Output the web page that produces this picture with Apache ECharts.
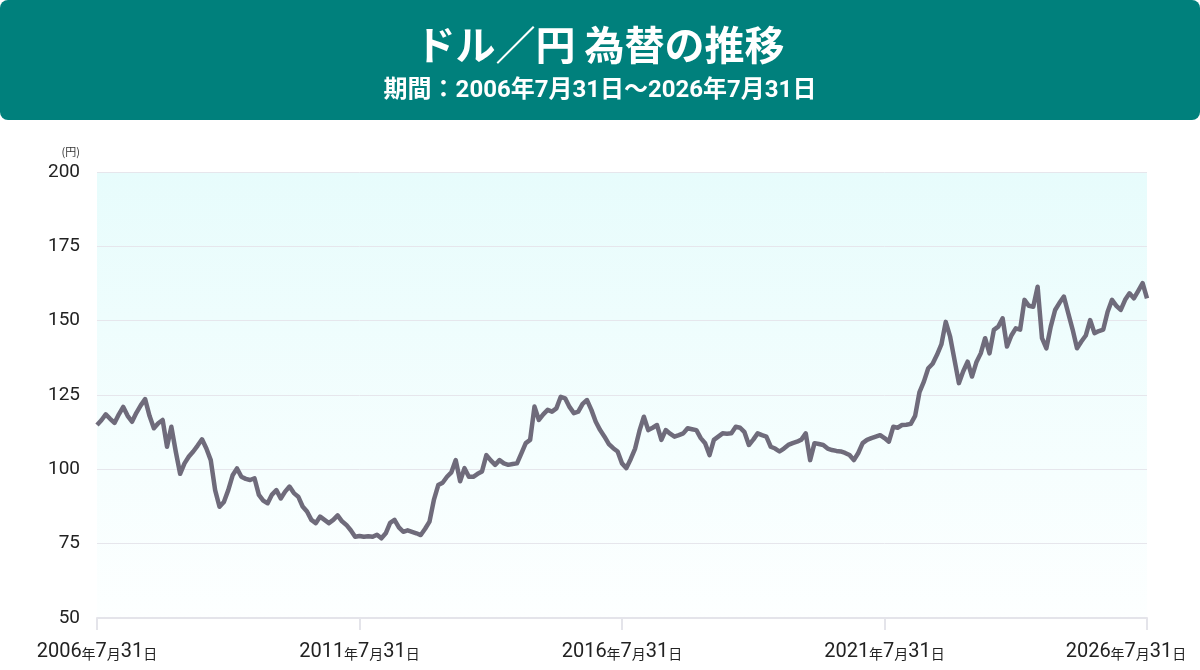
<!DOCTYPE html>
<html>
<head>
<meta charset="utf-8">
<script src="https://cdn.jsdelivr.net/npm/echarts@6/dist/echarts.min.js"></script>
<style>
html, body { margin: 0; padding: 0; background: #fff; }
#chart { width: 1200px; height: 670px; }
</style>
</head>
<body>
<div id="chart"></div>
<script>
// 月末ごとのドル円（2006年7月 ～ 2026年7月、チャートから読み取り）
var usdJpy = [
	114.9,116.5,118.5,117,115.6,118.5,121,118,116,119,
	121.5,123.6,118,113.8,115.5,116.6,107.6,114.3,106,98.5,
	102,104.3,106,108,110.1,107,103.1,93,87.4,89,
	93,98,100.3,97.5,96.8,96.4,97,91.4,89.5,88.6,
	91.5,93,90.2,92.5,94.2,92,90.8,87.5,85.8,83,
	81.9,84.1,83,81.9,83,84.5,82.5,81.3,79.5,77.3,
	77.6,77.3,77.5,77.3,78,76.8,78.5,82,83,80.5,
	79,79.5,79,78.5,77.9,80,82.4,89.7,94.7,95.5,
	97.5,99,103.1,96,100.4,97.5,97.5,98.5,99.3,104.8,
	103,101.5,103.1,102,101.5,101.8,102,105.4,108.8,109.9,
	121.1,116.6,118.5,120,119.4,120.5,124.4,123.9,121,118.9,
	119.4,122,123.3,120,116,113.2,111,108.5,107.1,106,
	102,100.4,103.5,107,113,117.7,113.2,114,114.9,109.9,
	113.2,112,111,111.5,112.1,113.8,113.5,113.2,110.5,108.8,
	104.8,109.9,111,112.1,112,112.1,114.3,114,112.5,108.2,
	110,112.1,111.5,111,107.6,107,106,107,108.2,108.8,
	109.3,110,112.1,103.1,108.8,108.5,108.2,107,106.5,106.2,
	106,105.5,104.8,103.1,105.5,108.8,109.9,110.5,111,111.5,
	110.5,109.3,114.3,114,114.9,115,115.3,118,126,129.5,
	134,135.5,138.5,142,149.6,144.6,136.8,129,133,136.2,
	131.2,136,139,144.1,139,146.9,148,150.8,141.3,145,
	147.4,147,157,155,154.7,161.4,144.1,140.7,148,153.6,
	156,158.1,152.5,147,140.7,143,145,150.2,145.8,146.5,
	147,153,157,155,153.6,157,159.2,157.5,160,162.6,157.5
];
var tickYears = ['2006','2011','2016','2021','2026'];
var yTicks = [50, 75, 100, 125, 150, 175, 200];

var months = [];
for (var i = 0; i < usdJpy.length; i++) {
	var y = 2006 + Math.floor((6 + i) / 12);
	var m = (6 + i) % 12 + 1;
	months.push(y + '年' + m + '月');
}

function initRateLine() {
	var chart = echarts.init(document.getElementById('chart'));
	var option = {
		animation: false,
		graphic: [{
			type: 'rect',
			shape: { x: 0, y: 0, width: 1200, height: 120, r: 8 },
			style: { fill: '#00807c' },
			z: -1
		}],
		title: {
			text: 'ドル／円 為替の推移',
			subtext: '期間：2006年7月31日～2026年7月31日',
			left: 'center',
			top: 20,
			itemGap: 14,
			textStyle: {
				color: '#fff',
				fontSize: 40,
				fontWeight: 'bold',
				fontFamily: '"Noto Sans CJK JP"'
			},
			subtextStyle: {
				color: '#fff',
				fontSize: 24,
				fontWeight: 'bold',
				fontFamily: 'Roboto, "Noto Sans CJK JP"'
			}
		},
		grid: {
			left: 97,
			right: 53,
			top: 172,
			bottom: 52,
			outerBoundsMode: 'none',
			show: true,
			borderWidth: 0,
			backgroundColor: new echarts.graphic.LinearGradient(0, 0, 0, 1, [
				{ offset: 0, color: '#e7fcfc' },
				{ offset: 1, color: '#fdffff' }
			])
		},
		xAxis: {
			type: 'category',
			data: months,
			boundaryGap: false,
			axisLine: { lineStyle: { color: '#e4e4ea', width: 2 } },
			axisTick: {
				show: true,
				length: 12,
				interval: function(idx) { return idx % 60 === 0; },
				lineStyle: { color: '#e4e4ea', width: 2 }
			},
			axisLabel: {
				interval: function(idx) { return idx % 60 === 0; },
				margin: 24,
				showMinLabel: true,
				showMaxLabel: true,
				formatter: function(val, idx) {
					var s = '{n|' + tickYears[idx / 60] + '}{k|年}{n|7}{k|月}{n|31}{k|日}';
					if (idx === usdJpy.length - 1) s += '{p|}';
					return s;
				},
				rich: {
					n: { fontSize: 20, color: '#222', fontFamily: 'Roboto' },
					k: { fontSize: 14, color: '#222', fontFamily: '"Noto Sans CJK JP"', padding: [3, 0, 0, 0] },
					p: { width: 42 }
				}
			},
			splitLine: { show: false }
		},
		yAxis: {
			type: 'value',
			min: 50,
			max: 200,
			interval: 25,
			name: '(円)',
			nameLocation: 'end',
			nameGap: 15,
			nameTextStyle: {
				fontSize: 11,
				color: '#333',
				align: 'right',
				padding: [0, 17, 0, 0],
				fontFamily: '"Noto Sans CJK JP"'
			},
			axisLine: { show: false },
			axisTick: { show: false },
			axisLabel: {
				margin: 17,
				fontSize: 19,
				color: '#222',
				fontFamily: 'Roboto',
				formatter: function(v) { return yTicks.indexOf(v) >= 0 ? String(v) : ''; }
			},
			splitLine: { lineStyle: { color: '#e6e6ec', width: 1 } }
		},
		series: [{
			name: 'ドル円',
			type: 'line',
			data: usdJpy,
			symbol: 'none',
			smooth: false,
			lineStyle: { color: '#6f6b7b', width: 4.5, join: 'round' }
		}]
	};
	chart.setOption(option);
}
initRateLine();
</script>
</body>
</html>
